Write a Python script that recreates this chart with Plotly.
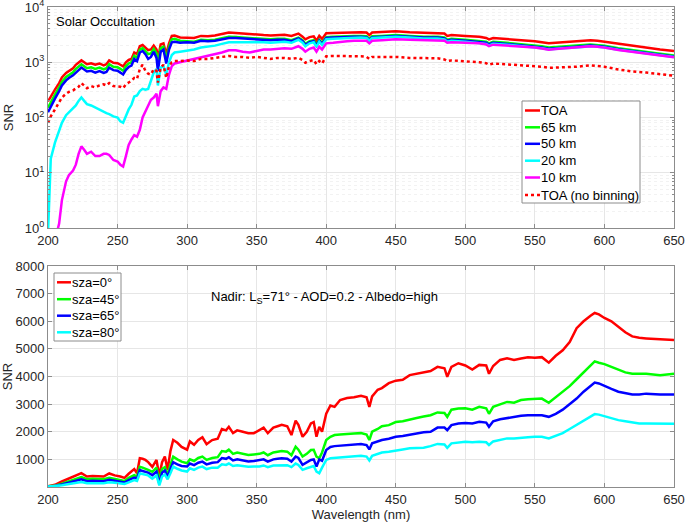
import plotly.graph_objects as go
from plotly.subplots import make_subplots

# ---------------- Top panel: Solar Occultation ----------------
wl_top = [200, 202, 205, 208, 210, 213, 215, 218, 220, 222,
          224, 226, 228, 231, 234, 237, 240, 242, 244, 247,
          250, 252, 254, 256, 258, 260, 262, 264, 266, 268,
          270, 272, 274, 276, 278, 279, 281, 283, 285, 287,
          289, 291, 295, 300, 305, 310, 315, 320, 325, 330,
          335, 340, 345, 350, 355, 360, 365, 370, 375, 380,
          383, 385, 388, 391, 393, 395, 397, 400, 405, 410,
          415, 420, 425, 429, 431, 433, 440, 450, 460, 470,
          480, 485, 487, 490, 500, 510, 515, 517, 520, 530,
          540, 550, 555, 560, 565, 570, 580, 590, 595, 600,
          610, 620, 630, 640, 650]

snr_toa = [195, 240, 320, 420, 530, 640, 700, 780, 900, 980,
           1080, 1000, 920, 960, 900, 950, 880, 920, 1080, 980,
           960, 900, 840, 1000, 1100, 1150, 1500, 1400, 1950, 2050,
           1850, 1650, 1700, 2000, 1700, 1150, 2100, 2200, 1400, 2200,
           3000, 3050, 2800, 2800, 2750, 3000, 2950, 3050, 3250, 3450,
           3400, 3300, 3200, 3150, 3100, 3050, 3100, 3150, 3000, 3300,
           2900, 2600, 2850, 2950, 2450, 3000, 2650, 3350, 3400, 3450,
           3450, 3500, 3500, 3450, 3100, 3450, 3550, 3650, 3500, 3400,
           3400, 3300, 3000, 3100, 3000, 2900, 2750, 2600, 2750, 2650,
           2500, 2400, 2300, 2200, 2250, 2300, 2350, 2500, 2450, 2350,
           2150, 1950, 1850, 1700, 1600]

snr_65km = [150, 190, 260, 350, 440, 540, 590, 660, 760, 830,
            920, 850, 780, 810, 760, 800, 740, 780, 920, 830,
            810, 760, 700, 850, 950, 1000, 1300, 1200, 1700, 1800,
            1600, 1400, 1450, 1750, 1450, 900, 1800, 1900, 1150, 1900,
            2600, 2650, 2450, 2400, 2350, 2550, 2500, 2550, 2700, 2900,
            2850, 2800, 2700, 2700, 2650, 2600, 2650, 2650, 2500, 2800,
            2500, 2150, 2400, 2500, 2100, 2550, 2250, 2850, 2900, 2950,
            2950, 3000, 3000, 2950, 2650, 2950, 3000, 3100, 3000, 2900,
            2900, 2800, 2550, 2650, 2550, 2450, 2350, 2200, 2350, 2250,
            2150, 2050, 1950, 1850, 1900, 1950, 2000, 2100, 2050, 2000,
            1800, 1650, 1550, 1430, 1320]

snr_50km = [125, 160, 220, 300, 380, 470, 520, 580, 660, 720,
            800, 740, 680, 700, 650, 690, 640, 670, 800, 720,
            700, 650, 600, 730, 820, 870, 1150, 1050, 1500, 1600,
            1400, 1150, 1250, 1550, 1200, 700, 1550, 1700, 950, 1700,
            2300, 2350, 2250, 2300, 2250, 2450, 2400, 2450, 2600, 2750,
            2750, 2700, 2600, 2600, 2550, 2500, 2550, 2550, 2400, 2700,
            2400, 2050, 2300, 2400, 2000, 2450, 2150, 2750, 2800, 2850,
            2850, 2900, 2900, 2850, 2550, 2850, 2900, 3000, 2900, 2800,
            2800, 2700, 2450, 2550, 2450, 2350, 2250, 2100, 2250, 2150,
            2050, 1950, 1850, 1750, 1800, 1850, 1900, 2000, 1950, 1900,
            1720, 1580, 1480, 1370, 1270]

snr_20km = [0.8, 18, 35, 60, 80, 110, 125, 145, 165, 200,
            230, 200, 175, 165, 150, 140, 125, 120, 115, 105,
            100, 85, 80, 110, 140, 170, 240, 250, 300, 330,
            320, 330, 450, 650, 750, 380, 800, 850, 600, 1000,
            1350, 1500, 1550, 1600, 1700, 1850, 1900, 2000, 2150, 2300,
            2300, 2280, 2250, 2300, 2300, 2250, 2300, 2350, 2250, 2550,
            2250, 1950, 2200, 2300, 1900, 2350, 2050, 2600, 2650, 2700,
            2750, 2800, 2800, 2750, 2450, 2750, 2800, 2900, 2800, 2700,
            2700, 2600, 2350, 2450, 2350, 2250, 2150, 2000, 2150, 2080,
            1980, 1880, 1800, 1700, 1750, 1800, 1850, 1950, 1900, 1850,
            1680, 1550, 1450, 1340, 1250]

snr_10km = [0.3, 0.4, 0.6, 1.2, 3.2, 7, 9, 11, 14, 22,
            30, 26, 22, 24, 20, 20, 22, 22, 21, 17,
            16, 14, 13, 20, 32, 40, 48, 45, 60, 100,
            130, 160, 210, 230, 270, 160, 300, 350, 330, 600,
            850, 950, 1000, 1100, 1150, 1250, 1300, 1400, 1500, 1650,
            1650, 1550, 1500, 1600, 1700, 1700, 1750, 1800, 1750, 1950,
            1750, 1550, 1750, 1850, 1550, 1900, 1700, 2200, 2250, 2350,
            2400, 2450, 2450, 2450, 2200, 2450, 2500, 2600, 2550, 2500,
            2500, 2450, 2250, 2300, 2250, 2200, 2100, 1950, 2080, 2020,
            1950, 1850, 1780, 1680, 1730, 1780, 1840, 1940, 1900, 1840,
            1670, 1540, 1440, 1330, 1230]

snr_toa_nobin = [80, 105, 140, 190, 230, 270, 290, 310, 330, 360,
                 420, 380, 340, 370, 350, 380, 400, 380, 420, 370,
                 370, 360, 340, 400, 430, 460, 520, 500, 750, 900,
                 700, 620, 600, 750, 700, 430, 800, 900, 520, 850,
                 1000, 1050, 1050, 1080, 1050, 1150, 1150, 1200, 1250, 1300,
                 1250, 1250, 1200, 1250, 1200, 1150, 1200, 1200, 1150, 1200,
                 1100, 980, 1050, 1100, 920, 1050, 950, 1280, 1300, 1300,
                 1320, 1300, 1280, 1250, 1150, 1250, 1250, 1250, 1200, 1180,
                 1180, 1120, 1050, 1080, 1050, 1000, 960, 900, 950, 920,
                 880, 860, 830, 790, 800, 820, 830, 880, 860, 830,
                 740, 680, 650, 610, 570]

top_names = ["TOA", "65 km", "50 km", "20 km", "10 km", "TOA (no binning)"]
top_colors = ["#ff0000", "#00ff00", "#0000ff", "#00ffff", "#ff00ff", "#ff0000"]
top_dash = ["solid", "solid", "solid", "solid", "solid", "dot"]
top_series = [snr_toa, snr_65km, snr_50km, snr_20km, snr_10km, snr_toa_nobin]

# ---------------- Bottom panel: Nadir ----------------
wl_bot = [200, 205, 210, 213, 216, 220, 224, 228, 232, 236,
          240, 244, 248, 252, 255, 258, 260, 262, 264, 266,
          268, 270, 272, 275, 278, 280, 282, 284, 286, 288,
          290, 293, 296, 300, 302, 305, 308, 311, 314, 318,
          322, 325, 328, 330, 333, 336, 340, 344, 348, 352,
          355, 358, 362, 365, 368, 372, 375, 378, 380, 383,
          386, 389, 391, 393, 395, 397, 400, 403, 406, 410,
          415, 420, 425, 429, 431, 433, 437, 440, 445, 450,
          455, 460, 465, 470, 475, 480, 485, 487, 490, 495,
          500, 505, 510, 515, 517, 520, 525, 530, 535, 540,
          545, 550, 555, 560, 565, 570, 575, 580, 585, 590,
          593, 596, 600, 605, 610, 615, 620, 625, 630, 640,
          650]

snr_sza0 = [30, 80, 200, 270, 340, 430, 500, 380, 400, 390,
            380, 490, 420, 380, 330, 480, 550, 650, 500, 1040,
            1020, 980, 900, 730, 980, 400, 900, 1100, 620, 1300,
            1700, 1600, 1450, 1350, 1650, 1530, 1700, 1800, 1550, 1700,
            1750, 2100, 2050, 2180, 1950, 2050, 2000, 1950, 1950, 2050,
            2150, 1950, 2150, 2200, 2250, 2200, 1880, 2400, 2250, 1820,
            2000, 2300, 2350, 1820, 2180, 2000, 2650, 2950, 2900, 3150,
            3220, 3250, 3300, 3250, 2900, 3280, 3520, 3580, 3760, 3850,
            3880, 4050, 4100, 4170, 4200, 4350, 4300, 3990, 4350, 4480,
            4400, 4250, 4420, 4400, 4100, 4380, 4600, 4660, 4600, 4650,
            4700, 4680, 4700, 4500, 4750, 4950, 5250, 5750, 6000, 6200,
            6300, 6250, 6120, 6000, 5800, 5600, 5450, 5400, 5380, 5340,
            5320]

snr_sza45 = [25, 50, 120, 170, 220, 290, 360, 280, 300, 290,
             280, 330, 290, 250, 220, 330, 380, 430, 380, 730,
             700, 670, 620, 550, 700, 250, 650, 720, 430, 800,
             1100, 1000, 920, 860, 1000, 940, 1050, 1100, 980, 1050,
             1080, 1300, 1280, 1350, 1200, 1250, 1200, 1160, 1180, 1200,
             1250, 1150, 1250, 1280, 1300, 1280, 1150, 1460, 1350, 1100,
             1200, 1340, 1350, 1100, 1040, 1250, 1700, 1820, 1880, 1900,
             1930, 1940, 1950, 1900, 1700, 2000, 2100, 2200, 2240, 2350,
             2380, 2450, 2500, 2550, 2600, 2700, 2680, 2540, 2800, 2840,
             2850, 2800, 2900, 2850, 2650, 2900, 3000, 3080, 3050, 3150,
             3180, 3200, 3200, 3050, 3250, 3450, 3650, 3900, 4150, 4400,
             4550, 4500, 4450, 4350, 4250, 4150, 4100, 4100, 4100, 4050,
             4100]

snr_sza65 = [20, 40, 90, 130, 170, 220, 280, 210, 230, 220,
             210, 260, 220, 180, 160, 250, 300, 340, 300, 610,
             580, 560, 520, 430, 560, 120, 520, 600, 350, 650,
             900, 820, 760, 740, 850, 790, 880, 920, 820, 880,
             900, 1050, 1020, 1080, 960, 1000, 960, 920, 940, 960,
             1000, 920, 1000, 1020, 1040, 1020, 920, 1100, 1050, 800,
             900, 980, 1000, 740, 1000, 950, 1340, 1450, 1480, 1500,
             1530, 1550, 1560, 1520, 1360, 1580, 1650, 1700, 1750, 1820,
             1850, 1900, 1940, 1980, 2000, 2150, 2150, 2060, 2240, 2300,
             2320, 2300, 2360, 2330, 2180, 2380, 2450, 2500, 2550, 2580,
             2600, 2600, 2600, 2540, 2650, 2800, 3000, 3200, 3450, 3650,
             3780, 3750, 3650, 3550, 3450, 3400, 3350, 3350, 3380, 3350,
             3350]

snr_sza80 = [15, 30, 60, 90, 120, 150, 180, 140, 150, 140,
             140, 170, 150, 120, 110, 170, 210, 250, 220, 490,
             470, 450, 420, 300, 420, 60, 380, 450, 280, 500,
             740, 660, 600, 560, 680, 620, 700, 740, 650, 700,
             700, 820, 800, 850, 760, 790, 760, 730, 740, 740,
             780, 720, 780, 790, 800, 790, 720, 850, 800, 620,
             680, 740, 760, 560, 500, 700, 980, 1040, 1050, 1080,
             1100, 1120, 1130, 1100, 960, 1130, 1200, 1250, 1280, 1330,
             1360, 1400, 1420, 1420, 1480, 1560, 1540, 1420, 1580, 1620,
             1640, 1620, 1640, 1620, 1520, 1650, 1700, 1760, 1760, 1790,
             1800, 1820, 1820, 1760, 1850, 1950, 2100, 2250, 2420, 2560,
             2640, 2620, 2560, 2500, 2420, 2380, 2330, 2300, 2300, 2290,
             2290]

bot_names = ["sza=0°", "sza=45°", "sza=65°", "sza=80°"]
bot_colors = ["#ff0000", "#00ff00", "#0000ff", "#00ffff"]
bot_series = [snr_sza0, snr_sza45, snr_sza65, snr_sza80]

x_ticks = [200, 250, 300, 350, 400, 450, 500, 550, 600, 650]
top_ytick_vals = [1, 10, 100, 1000, 10000]
top_ytick_text = ["10<sup>0</sup>", "10<sup>1</sup>", "10<sup>2</sup>", "10<sup>3</sup>", "10<sup>4</sup>"]
top_minor_vals = [m * d for d in (1, 10, 100, 1000) for m in range(2, 10)]
bot_ytick_vals = [1000, 2000, 3000, 4000, 5000, 6000, 7000, 8000]

FONT = "Liberation Sans, Arial, sans-serif"
TXT = "#262626"
W, H = 685, 524
ML, MR, MT, MB = 48, 11, 7, 37
PW, PH = W - ML - MR, H - MT - MB


def px_x(px):
    return (px - ML) / PW


def px_y(py):
    return (H - MB - py) / PH


fig = make_subplots(rows=2, cols=1)

for name, color, dash, vals in zip(top_names, top_colors, top_dash, top_series):
    fig.add_trace(go.Scatter(
        x=wl_top, y=vals, mode="lines", name=name, showlegend=False,
        line=dict(color=color, width=2.5, dash=dash)), row=1, col=1)

for name, color, vals in zip(bot_names, bot_colors, bot_series):
    fig.add_trace(go.Scatter(
        x=wl_bot, y=vals, mode="lines", name=name, showlegend=False,
        line=dict(color=color, width=2.5)), row=2, col=1)

axis_common = dict(showline=True, linecolor="#8c8c8c", linewidth=1, mirror="ticks",
                   ticks="inside", ticklen=4, tickcolor="#8c8c8c", automargin=False,
                   ticklabeloverflow="allow",
                   showgrid=True, gridcolor="#e6e6e6", gridwidth=1, zeroline=False,
                   tickfont=dict(family=FONT, size=13, color=TXT))

fig.update_xaxes(range=[200, 650], tickvals=x_ticks, domain=[0, 1], **axis_common)
fig.update_xaxes(title=dict(text="Wavelength (nm)", font=dict(family=FONT, size=13, color=TXT),
                            standoff=2), row=2, col=1)

fig.update_yaxes(type="log", range=[0, 4], tickvals=top_ytick_vals, ticktext=top_ytick_text,
                 minor=dict(tickvals=top_minor_vals, ticks="inside", ticklen=2, tickcolor="#8c8c8c",
                            showgrid=True, gridcolor="#f2f2f2", griddash="dot"),
                 title=dict(text="SNR", font=dict(family=FONT, size=13, color=TXT), standoff=8),
                 domain=[px_y(228), 1.0], row=1, col=1, **axis_common)
fig.update_yaxes(range=[0, 8000], tickvals=bot_ytick_vals,
                 title=dict(text="SNR", font=dict(family=FONT, size=13, color=TXT), standoff=3),
                 domain=[0.0, px_y(266)], row=2, col=1, **axis_common)

# ---- MATLAB-style legends drawn as shapes + text ----
shapes = []
annotations = []


def add_legend(box, rows, names, colors, dashes, line_x0, line_x1, text_x):
    x0, y0, x1, y1 = box
    shapes.append(dict(type="rect", xref="paper", yref="paper",
                       x0=px_x(x0), x1=px_x(x1), y0=px_y(y0), y1=px_y(y1),
                       line=dict(color="#8c8c8c", width=1), fillcolor="white", layer="above"))
    for ry, nm, col, ds in zip(rows, names, colors, dashes):
        shapes.append(dict(type="line", xref="paper", yref="paper",
                           x0=px_x(line_x0), x1=px_x(line_x1), y0=px_y(ry), y1=px_y(ry),
                           line=dict(color=col, width=2.5, dash=ds), layer="above"))
        annotations.append(dict(text=nm, xref="paper", yref="paper",
                                x=px_x(text_x), y=px_y(ry), xanchor="left", yanchor="middle",
                                showarrow=False, font=dict(family=FONT, size=13, color="#000000")))


add_legend((522, 101, 640, 203), [110.5, 127.3, 143.8, 160.7, 177.5, 195],
           top_names, top_colors, top_dash, 525, 540, 539)
add_legend((54, 273, 121, 341), [282.3, 299.2, 315.7, 332.3],
           bot_names, bot_colors, ["solid"] * 4, 57, 71, 70)

annotations += [
    dict(text="Solar Occultation", xref="paper", yref="paper", x=px_x(54), y=px_y(21),
         xanchor="left", yanchor="middle", showarrow=False,
         font=dict(family=FONT, size=13, color="#000000")),
    dict(text="Nadir: L<sub>S</sub>=71° - AOD=0.2 - Albedo=high", xref="paper", yref="paper",
         x=px_x(209), y=px_y(297), xanchor="left", yanchor="middle", showarrow=False,
         font=dict(family=FONT, size=13, color="#000000")),
]

fig.update_layout(
    width=W, height=H,
    margin=dict(l=ML, r=MR, t=MT, b=MB),
    paper_bgcolor="white", plot_bgcolor="white",
    showlegend=False,
    shapes=shapes,
    annotations=annotations,
)

fig.write_html("out.html", config={"displayModeBar": False},
               post_script="document.body.style.margin='0';document.body.style.padding='0';")
